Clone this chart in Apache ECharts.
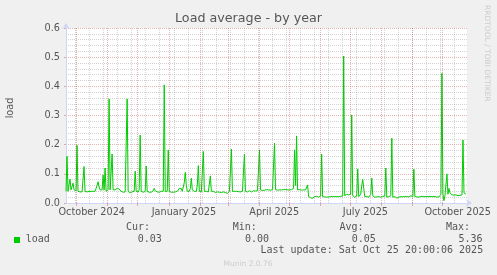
<!DOCTYPE html>
<html><head><meta charset="utf-8">
<script src="https://cdn.jsdelivr.net/npm/echarts@6/dist/echarts.min.js"></script>
<style>html,body{margin:0;padding:0;background:#f0f0f0}#c{width:497px;height:275px}</style>
</head><body><div id="c"></div>
<script>
// Graph spans 400 days ending Sat Oct 25 20:00:06 2025; one value per day.
const startTime = Date.UTC(2024, 8, 20, 20, 0, 6);
const loadValues = [
0.04,0.16,0.04,0.04,0.082,0.045,0.05,0.068,0.045,0.04,0.042,0.198,0.04,0.037,0.038,0.037,0.038,0.04,0.125,0.04,
0.037,0.038,0.037,0.04,0.038,0.04,0.042,0.04,0.045,0.04,0.05,0.06,0.073,0.055,0.045,0.05,0.045,0.096,0.045,0.12,
0.04,0.04,0.045,0.357,0.045,0.04,0.168,0.045,0.04,0.045,0.042,0.05,0.045,0.048,0.042,0.04,0.038,0.037,0.04,0.038,
0.04,0.357,0.04,0.037,0.035,0.037,0.038,0.036,0.04,0.109,0.04,0.037,0.038,0.045,0.233,0.04,0.038,0.037,0.04,0.04,
0.127,0.04,0.038,0.037,0.038,0.037,0.04,0.042,0.05,0.042,0.04,0.038,0.04,0.037,0.038,0.04,0.038,0.04,0.405,0.04,
0.038,0.04,0.182,0.04,0.038,0.037,0.038,0.037,0.04,0.038,0.037,0.04,0.045,0.05,0.045,0.05,0.04,0.045,0.07,0.105,
0.06,0.04,0.038,0.04,0.05,0.085,0.045,0.04,0.04,0.045,0.04,0.062,0.128,0.04,0.037,0.038,0.04,0.177,0.04,0.038,
0.04,0.037,0.038,0.04,0.093,0.04,0.038,0.04,0.037,0.036,0.037,0.038,0.035,0.037,0.038,0.036,0.035,0.038,0.037,0.036,
0.035,0.033,0.036,0.04,0.045,0.185,0.04,0.038,0.04,0.038,0.04,0.04,0.039,0.04,0.038,0.04,0.04,0.04,0.168,0.04,
0.04,0.038,0.04,0.042,0.04,0.038,0.04,0.042,0.04,0.041,0.04,0.042,0.045,0.182,0.045,0.042,0.043,0.045,0.044,0.045,
0.046,0.044,0.045,0.046,0.044,0.045,0.046,0.047,0.205,0.046,0.045,0.044,0.046,0.045,0.047,0.045,0.044,0.046,0.045,0.046,
0.044,0.045,0.047,0.045,0.044,0.046,0.045,0.05,0.182,0.06,0.23,0.045,0.044,0.046,0.045,0.044,0.046,0.045,0.044,0.045,
0.047,0.062,0.022,0.02,0.018,0.022,0.016,0.02,0.022,0.021,0.023,0.022,0.02,0.022,0.024,0.168,0.022,0.02,0.021,0.018,
0.02,0.022,0.021,0.023,0.022,0.02,0.022,0.024,0.022,0.021,0.022,0.023,0.022,0.024,0.023,0.025,0.024,0.504,0.025,0.028,
0.03,0.025,0.028,0.027,0.03,0.302,0.025,0.022,0.02,0.022,0.024,0.117,0.022,0.02,0.03,0.06,0.081,0.05,0.022,0.02,
0.022,0.021,0.02,0.022,0.03,0.085,0.025,0.022,0.02,0.022,0.021,0.02,0.022,0.021,0.02,0.022,0.023,0.021,0.024,0.12,
0.02,0.018,0.022,0.02,0.025,0.222,0.02,0.018,0.022,0.02,0.017,0.022,0.02,0.024,0.022,0.018,0.021,0.024,0.022,0.02,
0.022,0.024,0.021,0.022,0.025,0.02,0.022,0.116,0.022,0.02,0.021,0.022,0.02,0.022,0.023,0.021,0.022,0.024,0.022,0.021,
0.022,0.02,0.022,0.024,0.022,0.021,0.022,0.02,0.022,0.021,0.02,0.022,0.021,0.022,0.03,0.445,0.03,0.008,0.025,0.03,
0.1,0.03,0.05,0.035,0.03,0.028,0.03,0.027,0.025,0.028,0.027,0.025,0.028,0.026,0.025,0.028,0.216,0.035,0.031,0.03
];
const monthStarts = ['2024-10-01','2024-11-01','2024-12-01','2025-01-01','2025-02-01','2025-03-01','2025-04-01',
  '2025-05-01','2025-06-01','2025-07-01','2025-08-01','2025-09-01','2025-10-01'];
const biweeklyMondays = ['2024-09-30','2024-10-14','2024-10-28','2024-11-11','2024-11-25','2024-12-09','2024-12-23',
  '2025-01-06','2025-01-20','2025-02-03','2025-02-17','2025-03-03','2025-03-17','2025-03-31','2025-04-14','2025-04-28',
  '2025-05-12','2025-05-26','2025-06-09','2025-06-23','2025-07-07','2025-07-21','2025-08-04','2025-08-18','2025-09-01',
  '2025-09-15','2025-09-29','2025-10-13'];
const labelMonths = ['2024-10-01','2025-01-01','2025-04-01','2025-07-01','2025-10-01'];
const labelNames = ['October 2024','January 2025','April 2025','July 2025','October 2025'];
const legendStats = {cur:'0.03', min:'0.00', avg:'0.05', max:'5.36'};

function dayOf(s){const p=s.split('-').map(Number);return (Date.UTC(p[0],p[1]-1,p[2])-startTime)/86400000;}
function gridPos(s){return Math.floor(dayOf(s))+0.5;}
const labelDays = labelMonths.map(s => dayOf(s) + 15.5);

const chart = echarts.init(document.getElementById('c'), null, {renderer:'canvas'});
const RED = 'rgba(190,70,70,0.4)';
const GRAY = 'rgba(140,140,140,0.38)';
const AX = '#CFD6F8';
const FONT = '"DejaVu Sans", sans-serif';
const MONO = '"DejaVu Sans Mono", monospace';
const TXT = '#555';
function txt(text, x, y, opts){
  opts = opts || {};
  return {type:'text', x:x, y:y, rotation:opts.rot||0, silent:true,
    style:{text:text, font:(opts.font||('10px '+MONO)), fill:opts.fill||TXT,
      align:opts.align||'left', textAlign:opts.align||'left', verticalAlign:'middle', textVerticalAlign:'middle'}};
}
chart.setOption({
  backgroundColor:'#f0f0f0',
  animation:false,
  grid:{left:66, right:30, top:28, bottom:72, show:true, backgroundColor:'#ffffff', borderWidth:0},
  xAxis:{type:'value', min:0, max:400,
    axisLine:{show:true, onZero:false, lineStyle:{color:AX, width:1}, symbol:['none','arrow'], symbolSize:[6,6], symbolOffset:[0,5]},
    axisTick:{show:true, customValues: monthStarts.map(gridPos), length:3, inside:false, lineStyle:{color:RED}},
    splitLine:{show:false},
    axisLabel:{customValues: labelDays, margin:4, color:TXT, fontSize:9.7, fontFamily:FONT, hideOverlap:false,
      formatter: function(v){let b=0;for(let i=1;i<labelDays.length;i++){if(Math.abs(labelDays[i]-v)<Math.abs(labelDays[b]-v))b=i;}return labelNames[b];}}
  },
  yAxis:{type:'value', min:0, max:0.6, interval:0.1,
    axisLine:{show:true, lineStyle:{color:AX, width:1}, symbol:['none','arrow'], symbolSize:[6,6], symbolOffset:[0,5]},
    axisTick:{show:true, length:2, lineStyle:{color:RED}},
    axisLabel:{formatter: v => v.toFixed(1), color:TXT, fontSize:9.7, fontFamily:FONT, margin:6},
    splitLine:{show:true, lineStyle:{color:RED, type:[1,1]}},
    minorTick:{show:false, splitNumber:5},
    minorSplitLine:{show:true, lineStyle:{color:GRAY, type:[1,1]}}
  },
  series:[
    {type:'line', z:1, data:[], silent:true,
      markLine:{silent:true, symbol:['none','none'], label:{show:false}, animation:false,
        lineStyle:{color:GRAY, type:[1,1], width:1},
        data: biweeklyMondays.map(s => ({xAxis: gridPos(s)}))}},
    {type:'line', z:1, data:[], silent:true,
      markLine:{silent:true, symbol:['none','none'], label:{show:false}, animation:false,
        lineStyle:{color:RED, type:[1,1], width:1},
        data: monthStarts.map(s => ({xAxis: gridPos(s)}))}},
    {type:'line', z:3, name:'load', showSymbol:false, symbol:'none',
      lineStyle:{color:'#00cc00', width:1}, itemStyle:{color:'#00cc00'},
      data: loadValues.map((v,i) => [i, v])}
  ],
  graphic:[
    txt('Load average - by year', 248.5, 19, {font:'12.7px '+FONT, align:'center'}),
    txt('load', 10, 108, {font:'9.7px '+FONT, align:'center', rot:Math.PI/2}),
    txt('RRDTOOL / TOBI OETIKER', 487, 5, {font:'7.5px '+FONT, fill:'#cccccc', rot:-Math.PI/2}),
    {type:'rect', shape:{x:14, y:237, width:6, height:6}, style:{fill:'#00cc00'}, silent:true},
    txt('load', 25.8, 239.3),
    txt('Cur:', 126, 227.7), txt(legendStats.cur, 137.7, 239.3),
    txt('Min:', 232.7, 227.7), txt(legendStats.min, 245, 239.3),
    txt('Avg:', 339.5, 227.7), txt(legendStats.avg, 351.7, 239.3),
    txt('Max:', 446, 227.7), txt(legendStats.max, 458.5, 239.3),
    txt('Last update: Sat Oct 25 20:00:06 2025', 260.4, 250.7),
    txt('Munin 2.0.76', 248, 264.3, {font:'7.5px '+FONT, fill:'#cccccc', align:'center'})
  ]
});
</script></body></html>
